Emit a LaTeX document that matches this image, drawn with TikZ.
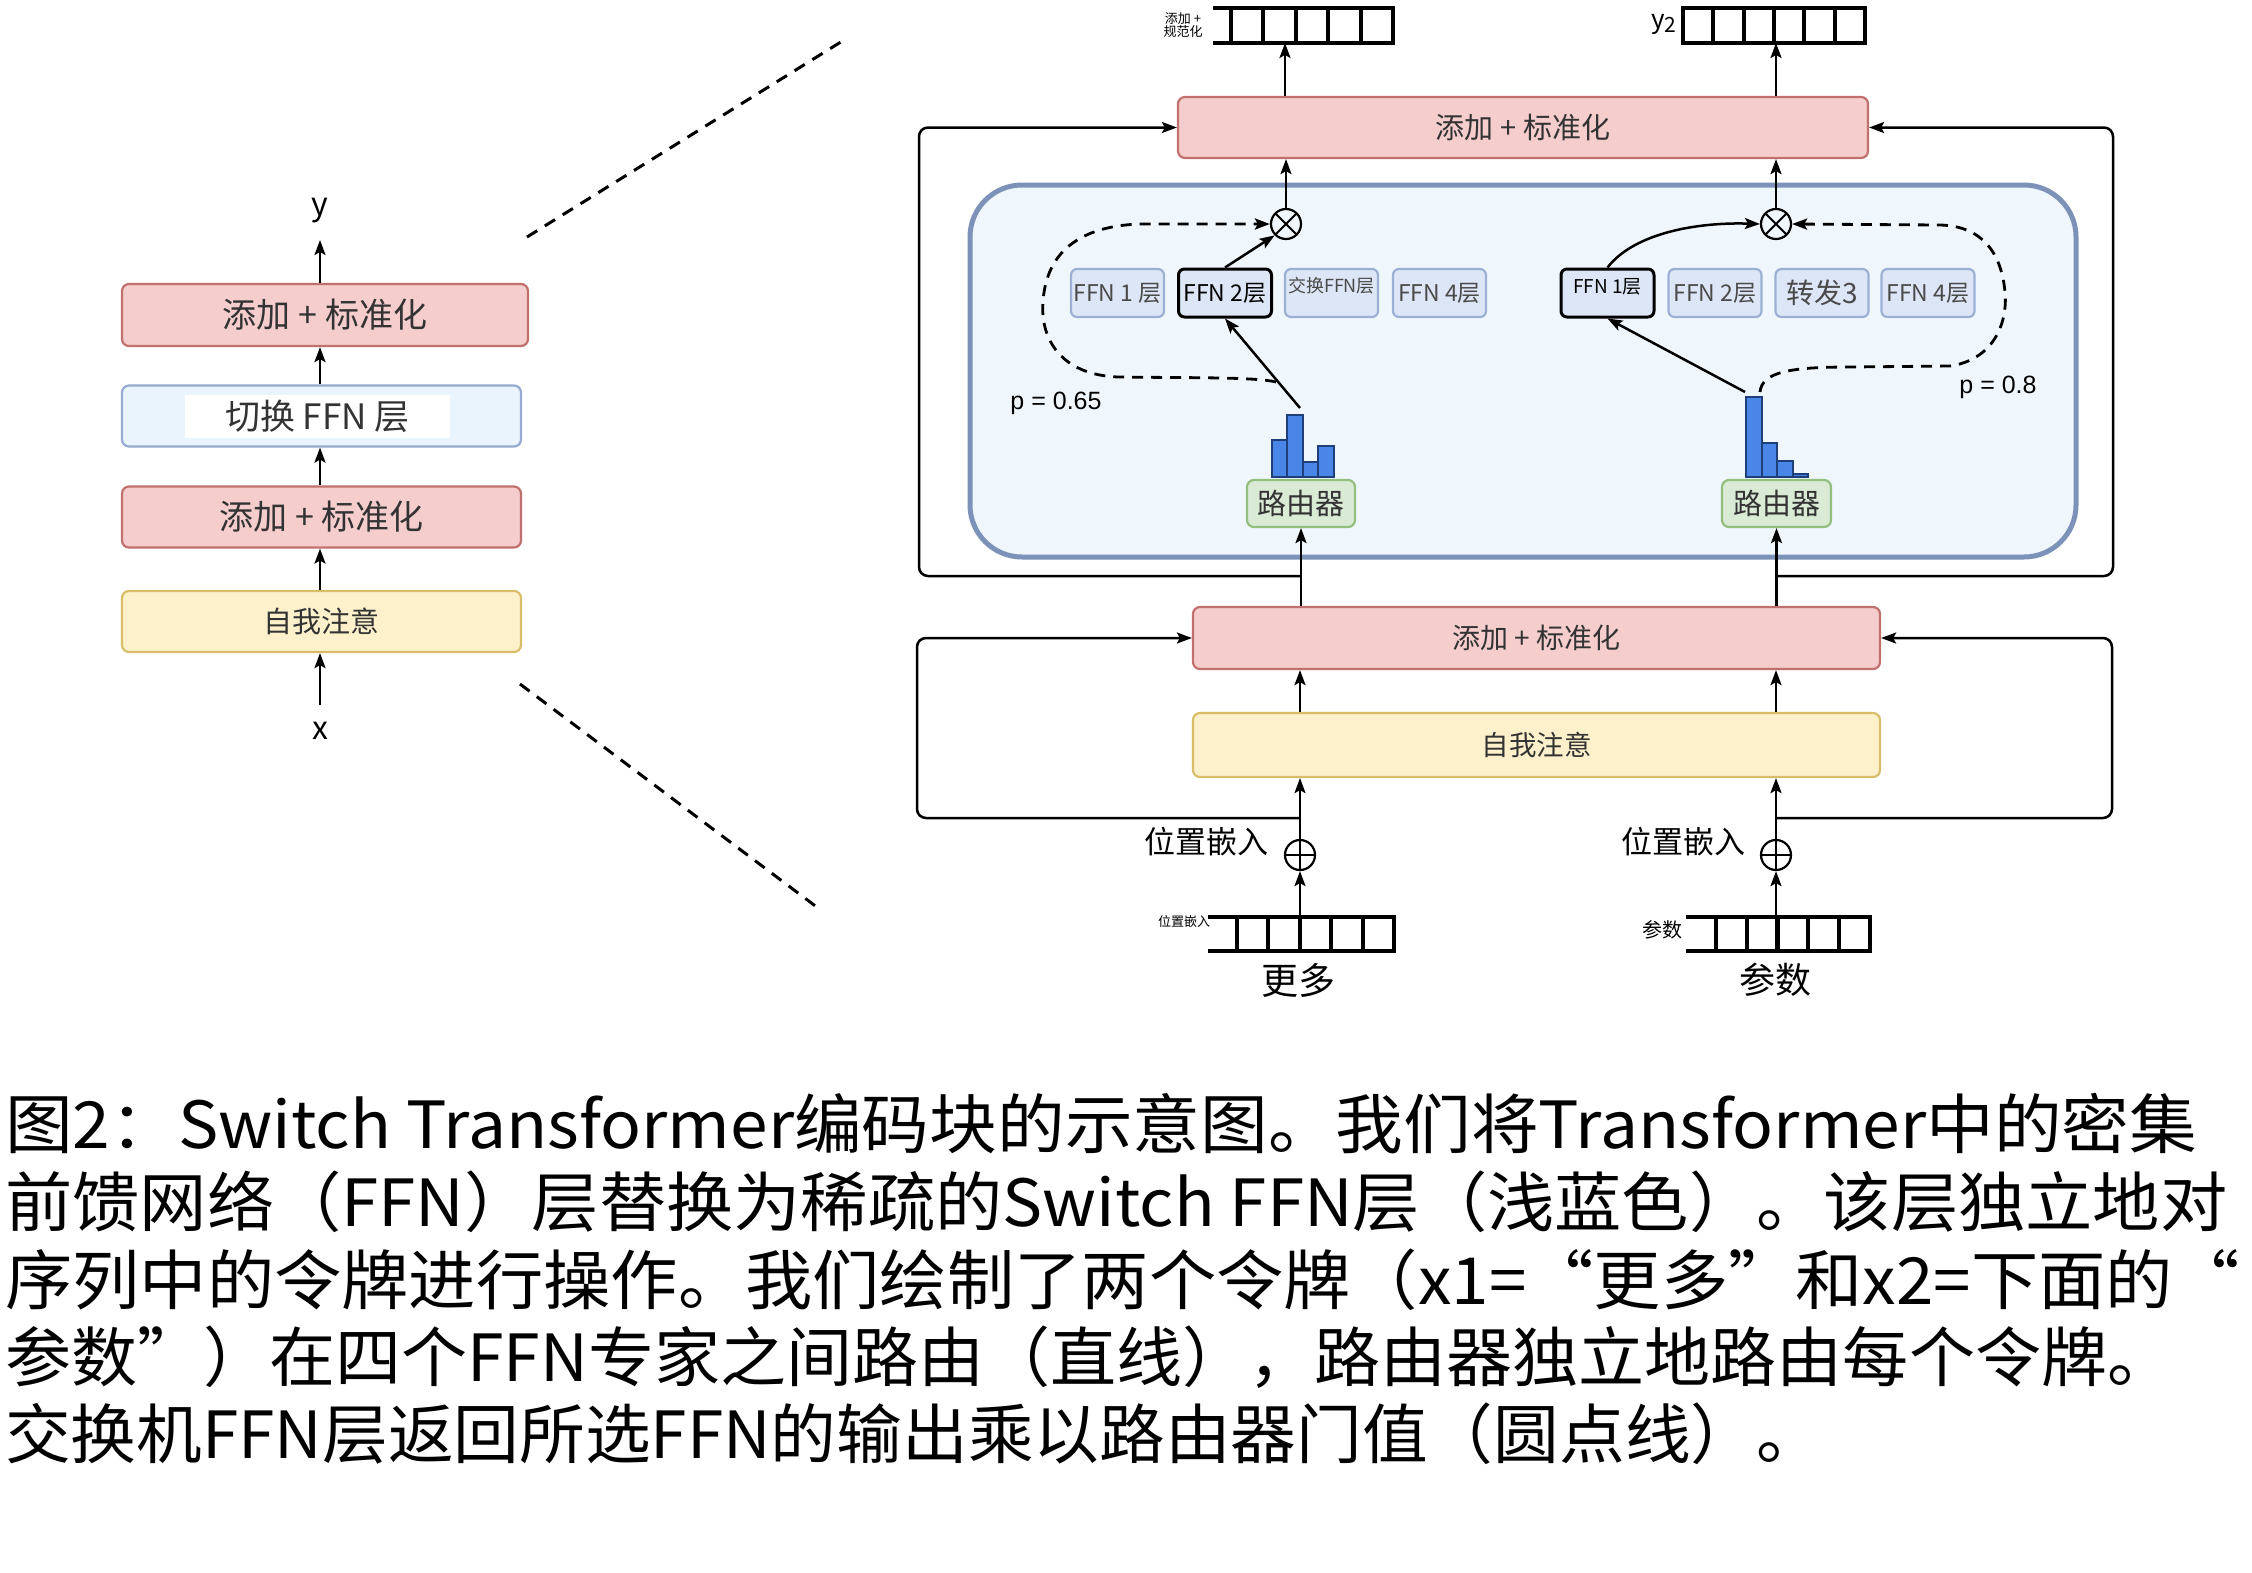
\documentclass[tikz,border=0pt]{standalone}
\usepackage{fontspec}
\usepackage{graphicx}
\setmainfont{Noto Sans CJK SC}
\newfontfamily\latf{Liberation Sans}
\usetikzlibrary{arrows.meta}
\definecolor{anfill}{HTML}{F5CDCC}
\definecolor{andraw}{HTML}{C0706D}
\definecolor{safill}{HTML}{FDF1CC}
\definecolor{sadraw}{HTML}{D9BE6A}
\definecolor{swfill}{HTML}{EAF4FC}
\definecolor{swdraw}{HTML}{95ABCF}
\definecolor{cfill}{HTML}{EFF7FC}
\definecolor{cdraw}{HTML}{7D92B8}
\definecolor{expfill}{HTML}{DCE6F6}
\definecolor{expdraw}{HTML}{9DB0D3}
\definecolor{exptxt}{HTML}{4A4A4A}
\definecolor{rtfill}{HTML}{D9EAD5}
\definecolor{rtdraw}{HTML}{93BE7E}
\definecolor{barfill}{HTML}{4A86E8}
\definecolor{bardraw}{HTML}{1F3F7A}
\definecolor{txt}{HTML}{333333}
\newcommand\fz[1]{\fontsize{#1}{#1}\selectfont}
\tikzset{
  box/.style={draw, line width=2.2pt, rounded corners=7pt, inner sep=0pt, text=txt},
  anbox/.style={box, fill=anfill, draw=andraw},
  sabox/.style={box, fill=safill, draw=sadraw},
  expbox/.style={box, fill=expfill, draw=expdraw, minimum width=93pt, minimum height=48pt, rounded corners=6pt, text=exptxt, font=\fz{23}},
  selbox/.style={expbox, draw=black, line width=3pt, text=black},
  rtbox/.style={box, fill=rtfill, draw=rtdraw, minimum width=108pt, minimum height=47pt, font=\fz{29}},
  arr/.style={line width=2.5pt, -{Stealth[length=15pt,width=11pt,inset=3pt]}},
  dsh/.style={arr, dash pattern=on 11pt off 8pt, line width=2.8pt},
  opnode/.style={circle, draw, line width=2.2pt, minimum size=30pt, inner sep=0pt},
  vecline/.style={line width=4pt, line cap=rect},
  bar/.style={fill=barfill, draw=bardraw, line width=1.5pt},
  lbl/.style={inner sep=0pt, text=black},
  frame/.style={arr, rounded corners=9pt},
}
\begin{document}
\begin{tikzpicture}[x=1pt,y=-1pt]
\useasboundingbox[fill=white] (0,0) rectangle (2252,1572);

% ---------- left column ----------
\node[anbox, minimum width=406pt, minimum height=62pt, font=\fz{34}] (L1) at (325,315) {添加 + 标准化};
\node[box, fill=swfill, draw=swdraw, minimum width=399pt, minimum height=61pt] (L2) at (321.5,416) {};
\node[fill=white, minimum width=265pt, minimum height=43pt, inner sep=0pt, font=\fz{35}, text=txt] (L2t) at (317.5,416) {切换 FFN 层};
\node[anbox, minimum width=399pt, minimum height=61pt, font=\fz{34}] (L3) at (321.5,517) {添加 + 标准化};
\node[sabox, minimum width=399pt, minimum height=61pt, font=\fz{29}] (L4) at (321.5,621.5) {自我注意};
\node[lbl, font=\fz{32}] (Ly) at (320,211) {y};
\node[lbl, font=\fz{32}] (Lx) at (320,731) {x};
\coordinate (ya) at (320,240);
\coordinate (xa) at (320,705);
\draw[arr] (xa) -- (L4.south -| xa);
\draw[arr] (L4.north -| xa) -- (L3.south -| xa);
\draw[arr] (L3.north -| xa) -- (L2.south -| xa);
\draw[arr] (L2.north -| xa) -- (L1.south -| xa);
\draw[arr] (L1.north -| ya) -- (ya);

% zoom lines
\coordinate (z1a) at (527,237); \coordinate (z1b) at (844,40);
\coordinate (z2a) at (520,684); \coordinate (z2b) at (818,908);
\draw[line width=3pt, dash pattern=on 12pt off 9pt] (z1a) -- (z1b);
\draw[line width=3pt, dash pattern=on 12pt off 9pt] (z2a) -- (z2b);

% ---------- right: container ----------
\node[draw=cdraw, fill=cfill, line width=5pt, rounded corners=52pt, minimum width=1106pt, minimum height=372pt, inner sep=0pt] (C) at (1523,371) {};

% top add+norm
\node[anbox, minimum width=690pt, minimum height=61pt, font=\fz{29}] (AnT) at (1523,127.5) {添加 + 标准化};

% multiply nodes
\node[opnode, path picture={\draw[line width=2pt] (path picture bounding box.north west) -- (path picture bounding box.south east) (path picture bounding box.north east) -- (path picture bounding box.south west);}] (otL) at (1286,224) {};
\node[opnode, path picture={\draw[line width=2pt] (path picture bounding box.north west) -- (path picture bounding box.south east) (path picture bounding box.north east) -- (path picture bounding box.south west);}] (otR) at (1776,224) {};

% experts left
\node[expbox] (e1L) at (1117.5,293) {FFN 1 层};
\node[selbox] (e2L) at (1225,293) {FFN 2层};
\node[expbox, font=\fz{18}, text depth=16pt] (e3L) at (1331.5,293) {交换FFN层};
\node[expbox] (e4L) at (1439.5,293) {FFN 4层};
% experts right
\node[selbox, font=\fz{19}, text depth=14pt] (e1R) at (1607.5,293) {FFN 1层};
\node[expbox] (e2R) at (1715,293) {FFN 2层};
\node[expbox, font=\fz{28}] (e3R) at (1822,293) {转发3};
\node[expbox] (e4R) at (1928,293) {FFN 4层};

% routers
\node[rtbox] (rtL) at (1301,503.5) {路由器};
\node[rtbox, minimum width=109pt] (rtR) at (1776.5,503.5) {路由器};

% histograms
\draw[bar] (1272,477) rectangle (1287,440);
\draw[bar] (1287,477) rectangle (1303,415);
\draw[bar] (1303,477) rectangle (1318,462);
\draw[bar] (1318,477) rectangle (1334,446);
\draw[bar] (1746,477) rectangle (1762,397);
\draw[bar] (1762,477) rectangle (1777,443);
\draw[bar] (1777,477) rectangle (1793,461);
\draw[bar] (1793,477) rectangle (1808,474);

% p labels
\node[lbl, font=\latf\fz{25}] (pL) at (1056,403) {p = 0.65};
\node[lbl, font=\latf\fz{25}] (pR) at (1998,387) {p = 0.8};

% routing arrows
\coordinate (hL) at (1300,408);
\coordinate (hR) at (1745,392);
\draw[arr] (hL) -- (e2L.south);
\draw[arr] (e2L.north) -- (otL.south west);
\draw[arr] (hR) -- (e1R.south);
\draw[arr] (e1R.north) .. controls (1635,232) and (1700,222) .. (otR.west);
\coordinate (dL) at (1276,382);
\coordinate (dR) at (1760,392);
\draw[dsh] (dL) .. controls (1255,377) and (1200,378) .. (1118,377)
  .. controls (1062,375) and (1040,340) .. (1043,302)
  .. controls (1046,252) and (1080,226) .. (1140,224) -- (otL.west);
\draw[dsh] (dR) .. controls (1762,372) and (1790,367) .. (1850,367) -- (1950,366)
  .. controls (1992,360) and (2008,325) .. (2005,292)
  .. controls (2001,250) and (1980,226) .. (1940,225) -- (otR.east);

% outputs
\draw[arr] (otL.north) -- (AnT.south -| otL);
\draw[arr] (otR.north) -- (AnT.south -| otR);
\coordinate (v1) at (1285,43);
\coordinate (v2) at (1776,43);
\draw[arr] (AnT.north -| v1) -- (v1);
\draw[arr] (AnT.north -| v2) -- (v2);

% output vectors
\draw[vecline] (1215,8) -- (1393,8) (1215,43) -- (1393,43);
\foreach \i in {0,...,5} \draw[vecline] ({1231+\i*32.4},8) -- ({1231+\i*32.4},43);
\draw[vecline] (1683,8) -- (1865,8) (1683,43) -- (1865,43);
\foreach \i in {0,...,6} \draw[vecline] ({1683+\i*30.33},8) -- ({1683+\i*30.33},43);
\node[lbl, font=\fz{13}, align=center] (tl1) at (1183,25) {\fontsize{13}{19}\selectfont 添加 +\\规范化};
\node[lbl, font=\fz{26}] (y2) at (1664,24) {y\raisebox{-4pt}{\fz{21}2}};

% ---------- lower part ----------
\node[anbox, minimum width=687pt, minimum height=62pt, font=\fz{28}] (AnL) at (1536.5,638) {添加 + 标准化};
\node[sabox, minimum width=687pt, minimum height=64pt, font=\fz{27.5}] (SA) at (1536.5,745) {自我注意};
\node[opnode, path picture={\draw[line width=2pt] (path picture bounding box.north) -- (path picture bounding box.south) (path picture bounding box.west) -- (path picture bounding box.east);}] (opL) at (1300,855) {};
\node[opnode, path picture={\draw[line width=2pt] (path picture bounding box.north) -- (path picture bounding box.south) (path picture bounding box.west) -- (path picture bounding box.east);}] (opR) at (1776,855) {};
\node[lbl, font=\fz{31}] (peL) at (1206,842) {位置嵌入};
\node[lbl, font=\fz{31}] (peR) at (1683,842) {位置嵌入};

% input vectors
\draw[vecline] (1210,917) -- (1394,917) (1210,951) -- (1394,951);
\foreach \i in {0,...,5} \draw[vecline] ({1237+\i*31.4},917) -- ({1237+\i*31.4},951);
\draw[vecline] (1688,917) -- (1870,917) (1688,951) -- (1870,951);
\foreach \i in {0,...,5} \draw[vecline] ({1716+\i*30.8},917) -- ({1716+\i*30.8},951);
\node[lbl, font=\fz{13}] (tl2) at (1184,922) {位置嵌入};
\node[lbl, font=\fz{20}] (tl3) at (1662,930) {参数};
\node[lbl, font=\fz{37}] (w1) at (1298,980) {更多};
\node[lbl, font=\fz{36}] (w2) at (1775,980) {参数};

\coordinate (iL) at (1300,951);
\coordinate (iR) at (1776,951);
\draw[arr] (iL) -- (opL.south);
\draw[arr] (iR) -- (opR.south);
\draw[arr] (opL.north) -- (SA.south -| opL);
\draw[arr] (opR.north) -- (SA.south -| opR);
\draw[arr] (SA.north -| opL) -- (AnL.south -| opL);
\draw[arr] (SA.north -| opR) -- (AnL.south -| opR);
\draw[arr] (AnL.north -| rtL) -- (rtL.south);
\draw[arr] (AnL.north -| rtR) -- (rtR.south);

% residual frames
\coordinate (bL) at (1300,818);
\coordinate (bR) at (1776,818);
\coordinate (fL) at (1301,576);
\coordinate (fR) at (1776.5,576);
\draw[frame] (bL) -| (917,638) -- (AnL.west);
\draw[frame] (bR) -| (2112,638) -- (AnL.east);
\draw[frame] (fL) -| (919,127.5) -- (AnT.west);
\draw[frame] (fR) -| (2113,127.5) -- (AnT.east);

% ---------- caption ----------
\node[lbl, anchor=base west] (c1) at (5,1148) {\resizebox{2192pt}{\height}{\fz{65}图2：Switch Transformer编码块的示意图。我们将Transformer中的密集}};
\node[lbl, anchor=base west] (c2) at (5,1226) {\resizebox{2222pt}{\height}{\fz{65}前馈网络（FFN）层替换为稀疏的Switch FFN层（浅蓝色）。该层独立地对}};
\node[lbl, anchor=base west] (c3) at (5,1304) {\resizebox{2235pt}{\height}{\fz{65}序列中的令牌进行操作。我们绘制了两个令牌（x1=“更多”和x2=下面的“}};
\node[lbl, anchor=base west] (c4) at (5,1381) {\resizebox{2168pt}{\height}{\fz{65}参数”）在四个FFN专家之间路由（直线），路由器独立地路由每个令牌。}};
\node[lbl, anchor=base west] (c5) at (5,1458) {\resizebox{1817pt}{\height}{\fz{65}交换机FFN层返回所选FFN的输出乘以路由器门值（圆点线）。}};
\end{tikzpicture}
\end{document}
